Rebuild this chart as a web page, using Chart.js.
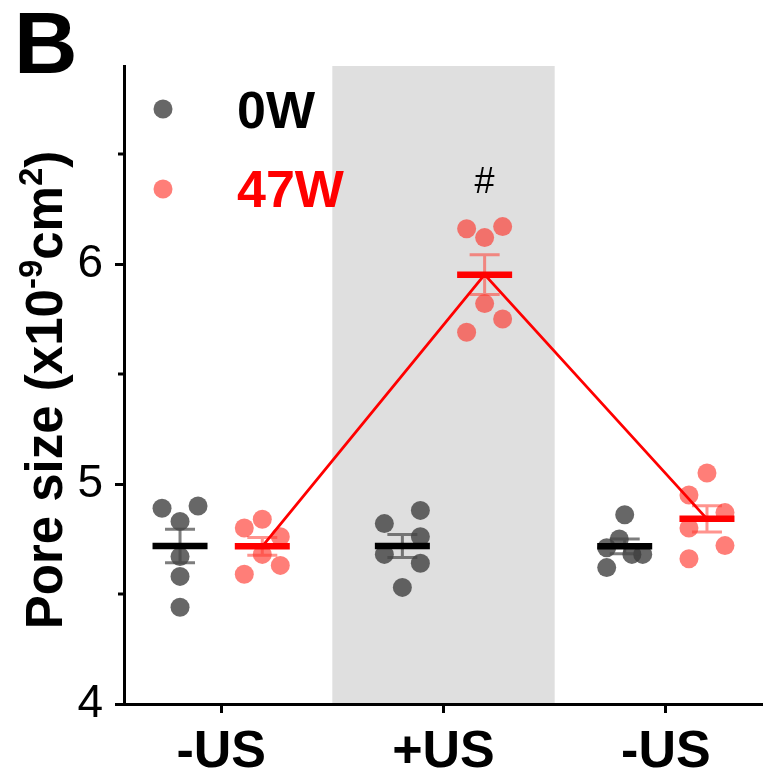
<!DOCTYPE html>
<html>
<head>
<meta charset="utf-8">
<script src="https://cdn.jsdelivr.net/npm/chart.js@4"></script>
<style>
  html, body { margin: 0; padding: 0; background: #fff; }
  #wrap { width: 763px; height: 780px; }
</style>
</head>
<body>
<div id="wrap"><canvas id="poreChart" width="763" height="780"></canvas></div>
<script>
// x groups
const groups = ["-US", "+US", "-US"];
const seriesNames = ["0W", "47W"];

// pore size per sample (x10^-9 cm^2), six samples per group
const values0W = [
  [4.89, 4.90, 4.83, 4.67, 4.58, 4.44],
  [4.82, 4.88, 4.76, 4.68, 4.64, 4.53],
  [4.86, 4.75, 4.71, 4.68, 4.68, 4.62]
];
const values47W = [
  [4.80, 4.84, 4.76, 4.68, 4.59, 4.63],
  [6.16, 6.17, 6.12, 5.82, 5.75, 5.69],
  [5.05, 4.95, 4.87, 4.80, 4.72, 4.66]
];

// where each dot sits inside its column (-1 left, 0 middle, 1 right)
const jitter0W = [
  [-1, 1, 0, 0, 0, 0],
  [-1, 1, 1, -1, 1, 0],
  [0, -0.3, -1, 0.4, 1, -1]
];
const jitter47W = [
  [-1, 0, 1, 0, -1, 1],
  [-1, 1, 0, 0, 1, -1],
  [0, -1, 1, -1, 1, -1]
];

const yTicks = [4, 5, 6];
const yMinorTicks = [4.5, 5.5, 6.5];

const FONT = "'Liberation Sans', Arial, Helvetica, sans-serif";
const GREY_DOT = "rgba(60,60,60,0.78)";
const RED_DOT = "rgba(255,40,30,0.6)";
const GREY_ERR = "rgba(70,70,70,0.7)";
const RED_ERR = "rgba(255,60,50,0.55)";
const OFFSET = 0.185;   // 0W left of group centre, 47W right
const SPREAD = 0.081;

function mean(a) { return a.reduce((s, v) => s + v, 0) / a.length; }
function sem(a) {
  const m = mean(a);
  const sd = Math.sqrt(a.reduce((s, v) => s + (v - m) * (v - m), 0) / (a.length - 1));
  return sd / Math.sqrt(a.length);
}

const mean0W = values0W.map(mean);
const mean47W = values47W.map(mean);
const sem0W = values0W.map(sem);
const sem47W = values47W.map(sem);

function dotPoints(vals, jit, side) {
  const pts = [];
  vals.forEach((g, i) => g.forEach((v, j) => {
    pts.push({ x: i + 1 + side * OFFSET + jit[i][j] * SPREAD, y: v });
  }));
  return pts;
}
function meanPoints(means, side) {
  return means.map((m, i) => ({ x: i + 1 + side * OFFSET, y: m }));
}

// grey band behind the +US group
const bandPlugin = {
  id: "band",
  beforeDraw(chart) {
    const { ctx, chartArea, scales } = chart;
    const x0 = scales.x.getPixelForValue(1.5);
    const x1 = scales.x.getPixelForValue(2.5);
    ctx.save();
    ctx.fillStyle = "#dfdfdf";
    ctx.fillRect(x0, chartArea.top, x1 - x0, chartArea.bottom - chartArea.top);
    ctx.restore();
  }
};

// SEM bars, drawn just under the mean markers
function drawErrors(chart, means, sems, side, color) {
  const { ctx, scales } = chart;
  ctx.save();
  ctx.strokeStyle = color;
  ctx.lineWidth = 3;
  means.forEach((m, i) => {
    const x = scales.x.getPixelForValue(i + 1 + side * OFFSET);
    const yt = scales.y.getPixelForValue(m + sems[i]);
    const yb = scales.y.getPixelForValue(m - sems[i]);
    ctx.beginPath();
    ctx.moveTo(x, yt); ctx.lineTo(x, yb);
    ctx.moveTo(x - 15, yt); ctx.lineTo(x + 15, yt);
    ctx.moveTo(x - 15, yb); ctx.lineTo(x + 15, yb);
    ctx.stroke();
  });
  ctx.restore();
}
const errorPlugin = {
  id: "errors",
  beforeDatasetDraw(chart, args) {
    if (args.index === 2) drawErrors(chart, mean0W, sem0W, -1, GREY_ERR);
    if (args.index === 3) drawErrors(chart, mean47W, sem47W, 1, RED_ERR);
  }
};

// minor ticks, axis title, legend, panel letter, significance mark
const decorPlugin = {
  id: "decor",
  afterDraw(chart) {
    const { ctx, chartArea, scales } = chart;
    ctx.save();
    ctx.strokeStyle = "#000";
    ctx.lineWidth = 3;
    yMinorTicks.forEach(v => {
      const y = scales.y.getPixelForValue(v);
      ctx.beginPath();
      ctx.moveTo(chartArea.left - 6, y);
      ctx.lineTo(chartArea.left, y);
      ctx.stroke();
    });

    // y title with superscripts
    const parts = [
      ["Pore size (x10", false], ["-9", true], ["cm", false], ["2", true], [")", false]
    ];
    const big = "bold 51px " + FONT, small = "bold 33px " + FONT;
    let total = 0;
    parts.forEach(p => { ctx.font = p[1] ? small : big; total += ctx.measureText(p[0]).width; });
    const cy = (chartArea.top + chartArea.bottom) / 2 + 5;
    ctx.translate(62, cy);
    ctx.rotate(-Math.PI / 2);
    ctx.fillStyle = "#000";
    ctx.textBaseline = "alphabetic";
    let x = -total / 2;
    parts.forEach(p => {
      ctx.font = p[1] ? small : big;
      ctx.fillText(p[0], x, p[1] ? -20 : 0);
      x += ctx.measureText(p[0]).width;
    });
    ctx.setTransform(1, 0, 0, 1, 0, 0);

    // legend
    [[GREY_DOT, "#000", 109, 128], [RED_DOT, "#ff0000", 189, 207]].forEach((l, i) => {
      ctx.fillStyle = l[0];
      ctx.beginPath();
      ctx.arc(163, l[2], 9.5, 0, Math.PI * 2);
      ctx.fill();
      ctx.fillStyle = l[1];
      ctx.font = "bold 52px " + FONT;
      ctx.fillText(seriesNames[i], 237, l[3]);
    });

    // panel letter
    ctx.fillStyle = "#000";
    ctx.font = "bold 88px " + FONT;
    ctx.fillText("B", 14, 73);

    // significance mark over 47W +US
    const hx = scales.x.getPixelForValue(2 + OFFSET);
    const hy = scales.y.getPixelForValue(mean47W[1] + sem47W[1]) - 72;
    ctx.font = "36px " + FONT;
    ctx.textAlign = "center";
    ctx.textBaseline = "middle";
    ctx.fillText("#", hx, hy);
    ctx.restore();
  }
};

const ctx = document.getElementById("poreChart");

new Chart(ctx, {
  type: "scatter",
  data: {
    datasets: [
      {
        label: seriesNames[0],
        data: dotPoints(values0W, jitter0W, -1),
        backgroundColor: GREY_DOT,
        borderWidth: 0,
        pointRadius: 9.5,
        order: 6
      },
      {
        label: seriesNames[1],
        data: dotPoints(values47W, jitter47W, 1),
        backgroundColor: RED_DOT,
        borderWidth: 0,
        pointRadius: 9.5,
        order: 5
      },
      {
        label: "mean 0W",
        data: meanPoints(mean0W, -1),
        pointStyle: "line",
        pointRadius: 27.5,
        borderColor: "#000",
        borderWidth: 6.5,
        order: 4
      },
      {
        label: "mean 47W",
        data: meanPoints(mean47W, 1),
        pointStyle: "line",
        pointRadius: 27.5,
        borderColor: "#ff0000",
        borderWidth: 6.5,
        order: 3
      },
      {
        label: "trend 47W",
        type: "line",
        data: meanPoints(mean47W, 1),
        borderColor: "#ff0000",
        borderWidth: 2.8,
        pointRadius: 0,
        fill: false,
        order: 2
      }
    ]
  },
  options: {
    responsive: false,
    animation: false,
    layout: { autoPadding: false, padding: { top: 66, left: 0, right: 0, bottom: 0 } },
    plugins: { legend: { display: false }, tooltip: { enabled: false } },
    scales: {
      x: {
        type: "linear",
        min: 0.563,
        max: 3.437,
        afterBuildTicks: s => { s.ticks = groups.map((g, i) => ({ value: i + 1 })); },
        afterFit: s => { s.height = 76; s.paddingLeft = 0; s.paddingRight = 0; },
        ticks: {
          callback: (v, i) => groups[i],
          font: { family: FONT, size: 52, weight: "bold" },
          color: "#000",
          padding: 8,
          maxRotation: 0,
          autoSkip: false
        },
        grid: { drawOnChartArea: false, tickLength: 9, tickWidth: 3, color: "#000" },
        border: { color: "#000", width: 3 }
      },
      y: {
        min: 4,
        max: 6.9,
        afterBuildTicks: s => { s.ticks = yTicks.map(v => ({ value: v })); },
        afterFit: s => { s.width = 124; s.paddingTop = 0; s.paddingBottom = 0; },
        ticks: {
          font: { family: FONT, size: 46 },
          color: "#000",
          padding: 12
        },
        grid: { drawOnChartArea: false, tickLength: 9, tickWidth: 3, color: "#000" },
        border: { color: "#000", width: 3 }
      }
    }
  },
  plugins: [bandPlugin, errorPlugin, decorPlugin]
});
</script>
</body>
</html>
